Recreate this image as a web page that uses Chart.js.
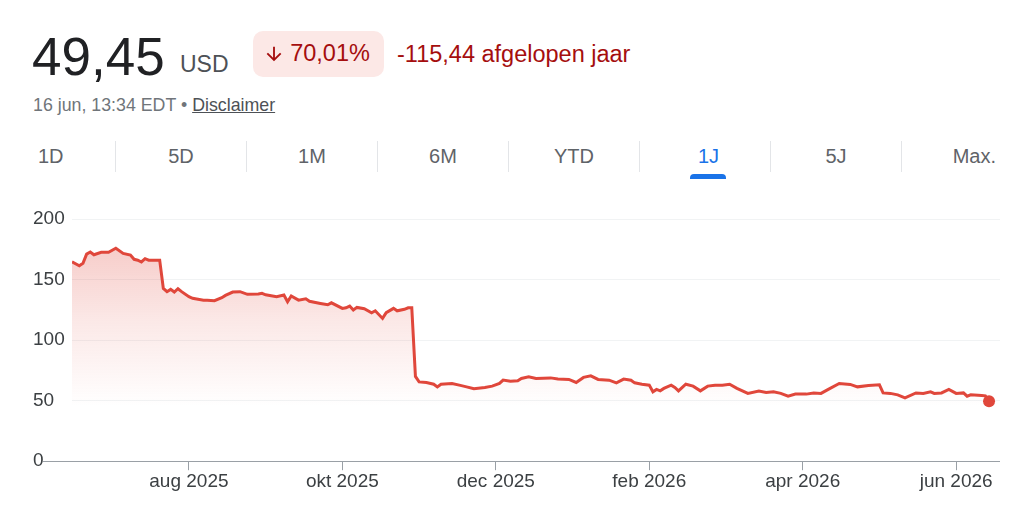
<!DOCTYPE html>
<html>
<head>
<meta charset="utf-8">
<script src="https://cdn.jsdelivr.net/npm/chart.js@4.4.1/dist/chart.umd.min.js"></script>
<style>
  html, body { margin: 0; padding: 0; background: #fff; }
  body { width: 1024px; height: 510px; position: relative; overflow: hidden;
         font-family: 'Liberation Sans', Arial, sans-serif; }
  .abs { position: absolute; line-height: 1; white-space: nowrap; }
  #price { left: 32px; top: 30px; font-size: 53px; color: #202124; }
  #cur { left: 180px; top: 53px; font-size: 23px; color: #4d5156; }
  #badge { left: 253px; top: 31px; width: 131px; height: 46px; border-radius: 10px;
           background: #fce8e6; color: #a50e0e; font-size: 23.5px;
           display: flex; align-items: center; justify-content: center; }
  #badge svg { width: 22px; height: 22px; margin-right: 5px; margin-left: -4px; }
  #change { left: 397px; top: 43px; font-size: 23.5px; color: #a50e0e; }
  #sub { left: 33px; top: 97px; font-size: 17.8px; color: #70757a; }
  #sub u { color: #4d5156; }
  #tabs { left: 33px; top: 141px; width: 967px; height: 31px; display: flex; }
  .tab { font-size: 20px; color: #5f6368; width: 131px; text-align: center;
         line-height: 31px; border-left: 1px solid #e3e5e8; box-sizing: border-box; position: relative; }
  .tab.first { width: 82px; text-align: left; border-left: none; padding-left: 5px; }
  .tab.last { width: 95px; text-align: right; }
  .tab.on { color: #1a73e8; padding-left: 7px; }
  .tab.on::after { content: ''; position: absolute; left: 50%; margin-left: -15px; bottom: -7px;
                   width: 36px; height: 5px; border-radius: 4px 4px 0 0; background: #1a73e8; }
  #wrap { position: absolute; left: 0; top: 190px; width: 1024px; height: 320px; }
</style>
</head>
<body>
<div id="price" class="abs">49,45</div>
<div id="cur" class="abs">USD</div>
<div id="badge" class="abs"><svg viewBox="0 0 24 24"><path fill="#a50e0e" d="M20 12l-1.41-1.41L13 16.17V4h-2v12.17l-5.58-5.59L4 12l8 8 8-8z"/></svg>70,01%</div>
<div id="change" class="abs">-115,44 afgelopen jaar</div>
<div id="sub" class="abs">16 jun, 13:34 EDT • <u>Disclaimer</u></div>
<div id="tabs" class="abs">
  <div class="tab first">1D</div>
  <div class="tab">5D</div>
  <div class="tab">1M</div>
  <div class="tab">6M</div>
  <div class="tab">YTD</div>
  <div class="tab on">1J</div>
  <div class="tab">5J</div>
  <div class="tab last">Max.</div>
</div>
<div id="wrap"><canvas id="chart"></canvas></div>
<script>
// trading-day index since 16 jun 2025
var days = [0, 2, 3, 4, 5, 6, 8, 10, 12, 14,
  16, 17, 18, 19, 20, 21, 24, 25, 26, 27,
  28, 29, 30, 32, 33, 36, 37, 39, 41, 42,
  44, 46, 48, 51, 52, 53, 56, 58, 59, 60,
  62, 64, 65, 68, 70, 71, 74, 75, 76, 77,
  78, 80, 82, 83, 85, 86, 88, 89, 91, 92,
  93, 94, 95, 97, 99, 100, 101, 104, 106, 108,
  110, 113, 115, 117, 118, 120, 122, 123, 125, 127,
  131, 133, 136, 138, 140, 142, 144, 147, 149, 151,
  153, 154, 156, 158, 159, 160, 161, 162, 164, 165,
  166, 168, 170, 172, 174, 176, 178, 180, 182, 185,
  188, 190, 192, 194, 196, 198, 201, 203, 205, 207,
  210, 213, 215, 218, 221, 222, 224, 226, 228, 231,
  233, 235, 236, 238, 240, 242, 244, 245, 246, 249,
  250, 251];
var prices = [164.7, 161.4, 163.4, 171, 172.7, 170.5, 172.5, 172.5, 175.8, 171.6,
  170.2, 166.7, 166, 164.5, 167.2, 166, 166, 142.7, 140, 141.9,
  139.7, 142.4, 140, 135.8, 134.5, 133, 133, 132.5, 135, 136.9,
  139.7, 140, 137.8, 138, 138.6, 137.4, 135.8, 137.2, 131.7, 136.4,
  133, 134.1, 132, 130.3, 129.2, 130.8, 126.2, 126.7, 128.1, 124.8,
  127, 125.9, 122.6, 124.2, 117.9, 122.6, 126.2, 124.2, 125.4, 126.7,
  126.7, 70, 65.5, 65, 63.6, 61.4, 63.6, 64.2, 62.8, 61.4,
  59.8, 60.9, 62, 64.2, 67, 66.1, 66.4, 68.3, 69.7, 68.3,
  68.8, 67.8, 67.5, 65, 69.2, 70.5, 67.5, 66.9, 64.7, 67.8,
  66.9, 64.7, 63.6, 62.8, 57.3, 59.3, 58.1, 60.1, 62.8, 60.9,
  58.1, 63.6, 62, 58.1, 62, 62.8, 62.8, 63.6, 60.1, 56,
  57.9, 56.8, 57.3, 56, 53.7, 55.4, 55.4, 56.4, 56, 59.3,
  64.2, 63.4, 61.4, 62.6, 63.1, 56.4, 56, 54.8, 52.3, 56.4,
  56, 57.3, 56, 56.4, 59.3, 56, 56.4, 53.7, 54.8, 54.3,
  54, 49.45];

var tickDays = [32, 74, 116, 158, 200, 242];
var tickLabels = ["aug 2025", "okt 2025", "dec 2025", "feb 2026", "apr 2026", "jun 2026"];
var yTicks = [0, 50, 100, 150, 200];

var red = '#e0473b';
var lastIndex = prices.length - 1;

function fillGradient(context) {
  var chart = context.chart;
  var area = chart.chartArea;
  if (!area) return 'rgba(224,71,59,0.1)';
  var y = chart.scales.y;
  var g = chart.ctx.createLinearGradient(0, area.top, 0, y.getPixelForValue(45));
  g.addColorStop(0, 'rgba(224,71,59,0.33)');
  g.addColorStop(0.55, 'rgba(224,71,59,0.12)');
  g.addColorStop(1, 'rgba(224,71,59,0)');
  return g;
}

var chartData = {
  datasets: [{
    data: days.map(function (d, i) { return { x: d, y: prices[i] }; }),
    borderColor: red,
    borderWidth: 3,
    tension: 0,
    fill: 'start',
    backgroundColor: fillGradient,
    pointRadius: function (ctx) { return ctx.dataIndex === lastIndex ? 6 : 0; },
    pointBackgroundColor: red,
    pointBorderWidth: 0,
    pointHoverRadius: 0
  }]
};

var chartOptions = {
  responsive: true,
  maintainAspectRatio: false,
  animation: false,
  layout: { padding: { left: 33, right: 24, top: 29, bottom: 17 } },
  plugins: {
    legend: { display: false },
    tooltip: { enabled: false }
  },
  scales: {
    x: {
      type: 'linear',
      min: 0,
      max: 254,
      afterBuildTicks: function (scale) {
        scale.ticks = tickDays.map(function (v) { return { value: v }; });
      },
      ticks: {
        autoSkip: false,
        maxRotation: 0,
        padding: 0,
        color: '#3c4043',
        font: { family: "'Liberation Sans', Arial", size: 19 },
        callback: function (v) { return tickLabels[tickDays.indexOf(v)]; }
      },
      grid: {
        drawOnChartArea: false,
        drawTicks: true,
        tickLength: 9,
        tickColor: '#9aa0a6'
      },
      border: { display: false }
    },
    y: {
      min: 0,
      max: 200,
      afterBuildTicks: function (scale) {
        scale.ticks = yTicks.map(function (v) { return { value: v }; });
      },
      afterFit: function (scale) { scale.width = 39; },
      ticks: {
        crossAlign: 'far',
        padding: 0,
        color: '#3c4043',
        font: { family: "'Liberation Sans', Arial", size: 19 }
      },
      grid: {
        tickLength: 29,
        color: function (ctx) { return ctx.tick && ctx.tick.value === 0 ? '#9aa0a6' : '#f1f3f4'; },
        tickColor: function (ctx) { return ctx.tick && ctx.tick.value === 0 ? '#9aa0a6' : 'rgba(0,0,0,0)'; }
      },
      border: { display: false }
    }
  }
};

var priceChart = new Chart(document.getElementById('chart'), {
  type: 'line',
  data: chartData,
  options: chartOptions
});
</script>
</body>
</html>
